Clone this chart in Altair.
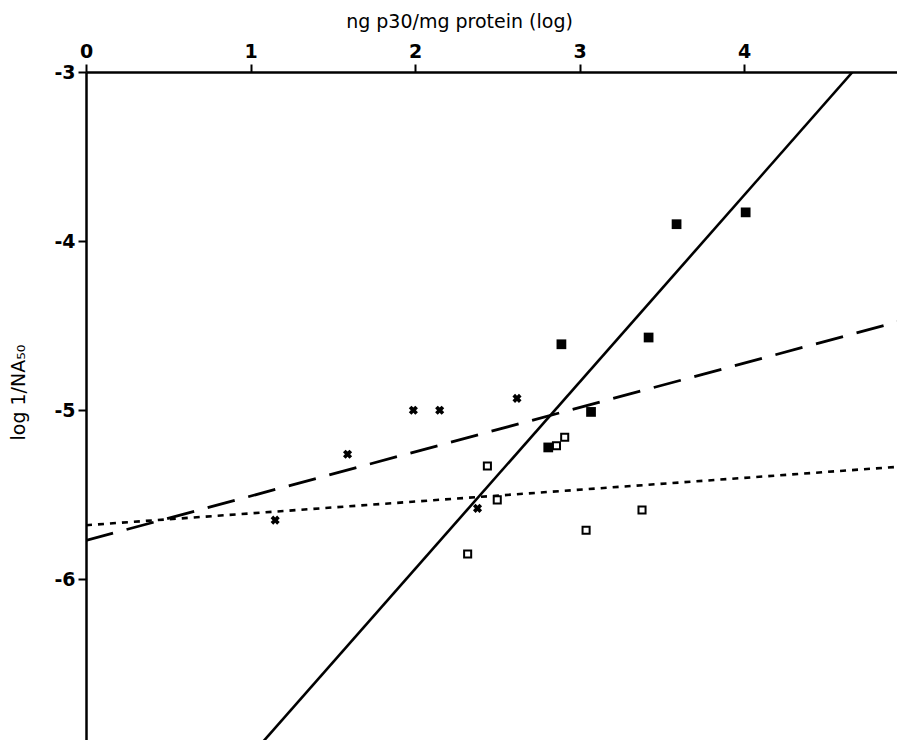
import altair as alt
import pandas as pd

# Data
filled_x = [2.81, 2.89, 3.07, 3.42, 3.59, 4.01]
filled_y = [-5.22, -4.61, -5.01, -4.57, -3.90, -3.83]

cross_x = [1.15, 1.59, 1.99, 2.15, 2.38, 2.62]
cross_y = [-5.65, -5.26, -5.00, -5.00, -5.58, -4.93]

open_x = [2.32, 2.44, 2.50, 2.86, 2.91, 3.04, 3.38]
open_y = [-5.85, -5.33, -5.53, -5.21, -5.16, -5.71, -5.59]

solid_x = [1.04, 4.66]
solid_y = [-7.0, -3.0]
dashed_x = [0.0, 5.0]
dashed_y = [-5.77, -4.46]
dotted_x = [0.0, 5.0]
dotted_y = [-5.68, -5.33]

x_ticks = [0, 1, 2, 3, 4]
y_ticks = [-3, -4, -5, -6]

X_DOMAIN = [0, 4.93]
Y_DOMAIN = [-6.95, -3]

LABEL_FONT = "DejaVu Sans"
TITLE_FONT = "DejaVu Sans"

xscale = alt.Scale(domain=X_DOMAIN, nice=False, zero=False)
yscale = alt.Scale(domain=Y_DOMAIN, nice=False, zero=False)

common = dict(
    grid=False, domainColor="black", domainWidth=2.5, tickColor="black",
    tickWidth=2, tickSize=8, labelFont=LABEL_FONT, labelFontSize=19,
    labelFontWeight="bold", labelColor="black", titleFont=TITLE_FONT,
    titleFontSize=19, titleFontWeight="normal", titleColor="black",
    labelFlush=False, titleBaseline="middle", titleAlign="center",
)

xaxis = alt.Axis(
    orient="top", values=x_ticks, title="ng p30/mg protein (log)",
    titleX=373, titleY=-51, labelPadding=3, **common,
)
yaxis = alt.Axis(
    orient="left", values=y_ticks, title="log 1/NA₅₀",
    titleX=-68, titleY=320, titleAngle=270, labelPadding=3,
    labelExpr="datum.value < 0 ? '-' + abs(datum.value) : datum.label",
    **common,
)

df_filled = pd.DataFrame({"x": filled_x, "y": filled_y})
df_cross = pd.DataFrame({"x": cross_x, "y": cross_y})
df_open = pd.DataFrame({"x": open_x, "y": open_y})
df_solid = pd.DataFrame({"x": solid_x, "y": solid_y})
df_dashed = pd.DataFrame({"x": dashed_x, "y": dashed_y})
df_dotted = pd.DataFrame({"x": dotted_x, "y": dotted_y})

enc = dict(
    x=alt.X("x:Q", scale=xscale, axis=xaxis),
    y=alt.Y("y:Q", scale=yscale, axis=yaxis),
)

solid = alt.Chart(df_solid).mark_line(color="black", strokeWidth=2.6, clip=True).encode(**enc)
dashed = alt.Chart(df_dashed).mark_line(color="black", strokeWidth=2.8, strokeDash=[28, 14], clip=True).encode(**enc)
dotted = alt.Chart(df_dotted).mark_line(color="black", strokeWidth=2.6, strokeDash=[6, 6], clip=True).encode(**enc)

filled = alt.Chart(df_filled).mark_point(shape="square", filled=True, color="black", size=95, opacity=1).encode(**enc)
opened = alt.Chart(df_open).mark_point(shape="square", filled=False, color="black", strokeWidth=2, size=50, opacity=1).encode(**enc)
crosses = alt.Chart(df_cross).mark_point(shape="cross", angle=45, filled=True, color="black", size=85, opacity=1).encode(**enc)

chart = alt.layer(solid, dashed, dotted, opened, crosses, filled).properties(
    width=811, height=668,
    autosize=alt.AutoSizeParams(type="none"),
    padding={"left": 78, "top": 64, "right": 0, "bottom": 0},
    background="white",
).configure_view(stroke=None)

chart.save("out.html", embed_options={"renderer": "svg", "actions": False})
